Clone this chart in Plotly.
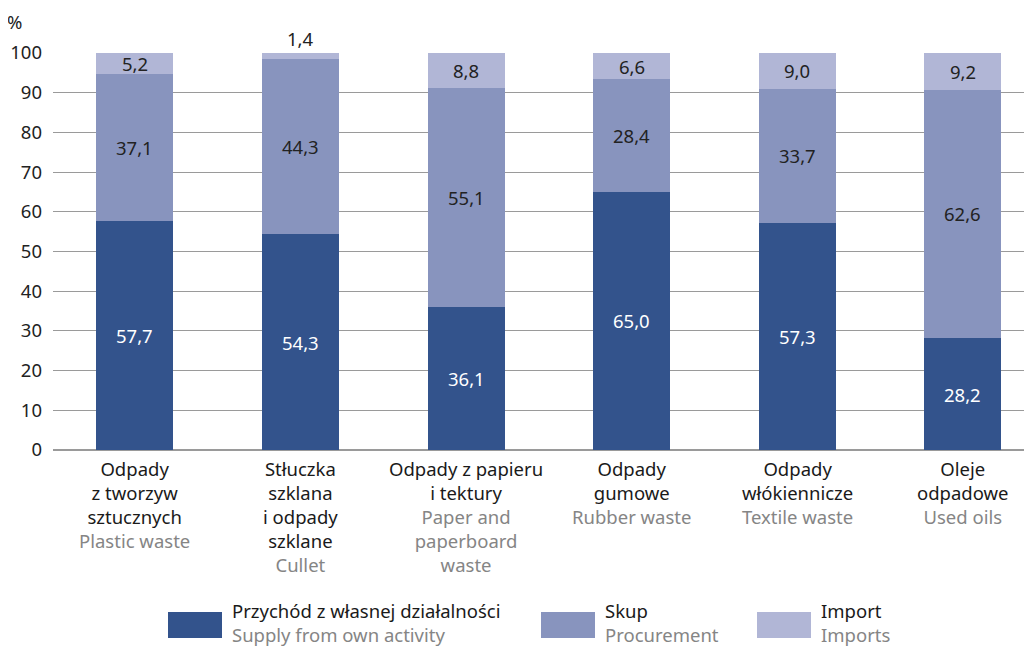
import plotly.graph_objects as go

categories_pl = ["Odpady<br>z tworzyw<br>sztucznych", "Stłuczka<br>szklana<br>i odpady<br>szklane",
                 "Odpady z papieru<br>i tektury", "Odpady<br>gumowe", "Odpady<br>włókiennicze", "Oleje<br>odpadowe"]
categories_en = ["Plastic waste", "Cullet", "Paper and<br>paperboard<br>waste", "Rubber waste",
                 "Textile waste", "Used oils"]
own_activity = [57.7, 54.3, 36.1, 65.0, 57.3, 28.2]
procurement = [37.1, 44.3, 55.1, 28.4, 33.7, 62.6]
imports = [5.2, 1.4, 8.8, 6.6, 9.0, 9.2]
series_pl = ["Przychód z własnej działalności", "Skup", "Import"]
series_en = ["Supply from own activity", "Procurement", "Imports"]
y_ticks = [0, 10, 20, 30, 40, 50, 60, 70, 80, 90, 100]

colors = ["#33538C", "#8894BE", "#B1B6D6"]
txt_colors = ["#ffffff", "#222222", "#222222"]
FONT = "Noto Sans"
FS = 18.5

x = list(range(len(own_activity)))
fig = go.Figure()
series = [own_activity, procurement, imports]
for i, vals in enumerate(series):
    fig.add_trace(go.Bar(x=x, y=vals, name=series_en[i], marker=dict(color=colors[i], line=dict(width=0)),
                         width=0.465, showlegend=False, hoverinfo="skip"))

def fmt(v):
    return f"{v:.1f}".replace(".", ",")

# value labels
for j in x:
    base = 0
    for i, vals in enumerate(series):
        v = vals[j]
        if v < 3:
            fig.add_annotation(x=j, y=base + v, text=fmt(v), showarrow=False, yanchor="bottom", yshift=0,
                               xref="x", yref="y", font=dict(size=FS, color=txt_colors[i], family=FONT))
        else:
            fig.add_annotation(x=j, y=base + v / 2, text=fmt(v), showarrow=False,
                               xref="x", yref="y", font=dict(size=FS, color=txt_colors[i], family=FONT))
        base += v

# category labels
for j in x:
    fig.add_annotation(x=j, y=0, xref="x", yref="paper", yanchor="top", yshift=-4, showarrow=False,
                       align="center",
                       text=categories_pl[j] + "<br><span style='color:#858585'>" + categories_en[j] + "</span>",
                       font=dict(size=FS, color="#1a1a1a", family=FONT))

PL, PR, PT, PB = 53, 1032, 53, 450  # plot area in page pixels
def px_x(p):
    return (p - PL) / (PR - PL)
def px_y(p):
    return (PB - p) / (PB - PT)

# % label
fig.add_annotation(x=0, y=1, xref="paper", yref="paper", text="%", showarrow=False,
                   xanchor="center", yanchor="bottom", xshift=-39, yshift=17,
                   font=dict(size=FS, color="#222", family=FONT))

# legend (manual)
leg_x = [168, 541, 757]
for i in range(3):
    x0 = leg_x[i]
    fig.add_shape(type="rect", xref="paper", yref="paper",
                  x0=px_x(x0), x1=px_x(x0 + 54), y0=px_y(638), y1=px_y(612),
                  fillcolor=colors[i], line=dict(width=0))
    fig.add_annotation(xref="paper", yref="paper", x=px_x(x0 + 62), y=px_y(596),
                       xanchor="left", yanchor="top", align="left", showarrow=False,
                       text=series_pl[i] + "<br><span style='color:#858585'>" + series_en[i] + "</span>",
                       font=dict(size=FS, color="#1a1a1a", family=FONT))

fig.update_layout(
    barmode="stack", width=1024, height=638,
    margin=dict(l=45, r=0, t=45, b=196),
    plot_bgcolor="white", paper_bgcolor="white",
    font=dict(family=FONT, size=FS, color="#222"),
    xaxis=dict(range=[-0.495, 5.417], showticklabels=False, showgrid=False, zeroline=False, fixedrange=True),
    yaxis=dict(range=[0, 100], tickvals=y_ticks, showgrid=True, gridcolor="#9a9a9a", gridwidth=1,
               zeroline=True, zerolinecolor="#9a9a9a", ticklabelstandoff=10,
               tickfont=dict(size=FS, color="#222", family=FONT)),
)
fig.write_html("out.html")
